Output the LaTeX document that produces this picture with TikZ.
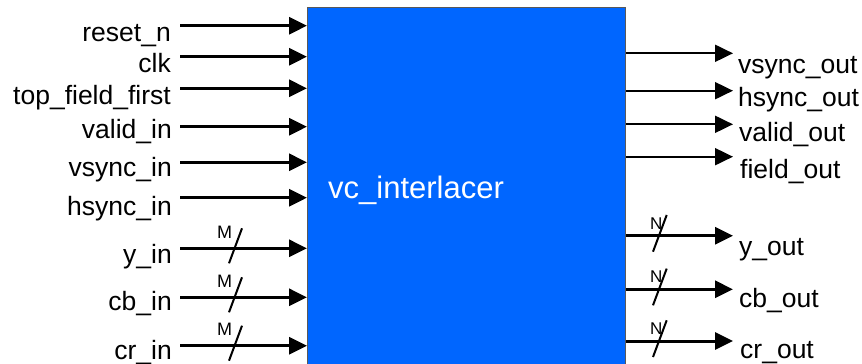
\documentclass[tikz,border=0pt]{standalone}
\usepackage{fontspec}
\setmainfont{Liberation Sans}
\usetikzlibrary{arrows.meta}
\definecolor{blockblue}{RGB}{0,102,255}
\newcommand{\sigfont}{\fontsize{26.5}{30}\selectfont}

\begin{document}
\begin{tikzpicture}[
  x=1pt, y=-1pt,
  > = {Triangle[length=18pt,width=17pt]},
  block/.style = {draw=gray!70!black, line width=1pt, fill=blockblue, inner sep=0pt, anchor=north west},
  inlabel/.style = {anchor=base east, inner sep=0pt, font=\sigfont},
  outlabel/.style = {anchor=base west, inner sep=0pt, font=\sigfont},
  wire/.style = {->, line width=3pt},
  thinwire/.style = {->, line width=2pt},
  buswidth/.style = {anchor=base west, inner sep=0pt, font=\fontsize{18}{20}\selectfont},
  busslash/.style = {line width=2pt}
  ]
	\useasboundingbox (0,0) rectangle (862,364);
	\clip (0,0) rectangle (862,364);

	\node[block, minimum width=318pt, minimum height=370pt] (ilc) at (307,7) {};
	\node[anchor=base west, inner sep=0pt, text=white, font=\fontsize{31}{36}\selectfont] (title) at (328,198) {vc\_interlacer};

	% inputs
	\coordinate (@rst) at (180,25.7);
	\coordinate (@clk) at (180,56.7);
	\coordinate (@tff) at (180,88.3);
	\coordinate (@vin) at (180,126.7);
	\coordinate (@vsi) at (180,162.3);
	\coordinate (@hsi) at (180,197.7);
	\coordinate (@yin) at (180,248.3);
	\coordinate (@cbi) at (180,297.3);
	\coordinate (@cri) at (180,345.7);

	\node[inlabel] (rstlab) at (171,41.7) {reset\_n};
	\node[inlabel] (clklab) at (171,72.7) {clk};
	\node[inlabel] (tfflab) at (171,104) {top\_field\_first};
	\node[inlabel] (vinlab) at (172,138.3) {valid\_in};
	\node[inlabel] (vsilab) at (172,176.7) {vsync\_in};
	\node[inlabel] (hsilab) at (172,215) {hsync\_in};
	\node[inlabel] (yinlab) at (172,263) {y\_in};
	\node[inlabel] (cbilab) at (172,310) {cb\_in};
	\node[inlabel] (crilab) at (172,359) {cr\_in};

	\draw[wire] (@rst) -- (ilc.west |- @rst);
	\draw[wire] (@clk) -- (ilc.west |- @clk);
	\draw[wire] (@tff) -- (ilc.west |- @tff);
	\draw[wire] (@vin) -- (ilc.west |- @vin);
	\draw[wire] (@vsi) -- (ilc.west |- @vsi);
	\draw[wire] (@hsi) -- (ilc.west |- @hsi);
	\draw[wire] (@yin) -- (ilc.west |- @yin);
	\draw[wire] (@cbi) -- (ilc.west |- @cbi);
	\draw[wire] (@cri) -- (ilc.west |- @cri);

	\draw[busslash] (242,228.3) -- (229,263.3);
	\draw[busslash] (242,277.3) -- (229,312.3);
	\draw[busslash] (242,325.7) -- (229,360.7);
	\node[buswidth] (yinw) at (217,238.3) {M};
	\node[buswidth] (cbiw) at (217,287.3) {M};
	\node[buswidth] (criw) at (217,335.7) {M};

	% outputs
	\coordinate (@vso) at (733,53.3);
	\coordinate (@hso) at (733,90.7);
	\coordinate (@vlo) at (733,124.3);
	\coordinate (@fdo) at (733,156.7);
	\coordinate (@yout) at (733,235.7);
	\coordinate (@cbo) at (733,289.3);
	\coordinate (@cro) at (733,341);

	\draw[thinwire] (ilc.east |- @vso) -- (@vso);
	\draw[thinwire] (ilc.east |- @hso) -- (@hso);
	\draw[thinwire] (ilc.east |- @vlo) -- (@vlo);
	\draw[thinwire] (ilc.east |- @fdo) -- (@fdo);
	\draw[wire] (ilc.east |- @yout) -- (@yout);
	\draw[wire] (ilc.east |- @cbo) -- (@cbo);
	\draw[wire] (ilc.east |- @cro) -- (@cro);

	\node[outlabel] (vsolab) at (738,73.3) {vsync\_out};
	\node[outlabel] (hsolab) at (738,106) {hsync\_out};
	\node[outlabel] (vlolab) at (739,141.7) {valid\_out};
	\node[outlabel] (fdolab) at (740,178) {field\_out};
	\node[outlabel] (youtlab) at (739,255) {y\_out};
	\node[outlabel] (cbolab) at (739,307) {cb\_out};
	\node[outlabel] (crolab) at (740,358) {cr\_out};

	\draw[busslash] (666.7,215) -- (653,251.7);
	\draw[busslash] (666.7,268.6) -- (653,305.3);
	\draw[busslash] (666.7,320.3) -- (653,357);
	\node[buswidth, font=\fontsize{17}{19}\selectfont] (youtw) at (650,229) {N};
	\node[buswidth, font=\fontsize{17}{19}\selectfont] (cbow) at (650,282.5) {N};
	\node[buswidth, font=\fontsize{17}{19}\selectfont] (crow) at (650,334) {N};

\end{tikzpicture}
\end{document}
